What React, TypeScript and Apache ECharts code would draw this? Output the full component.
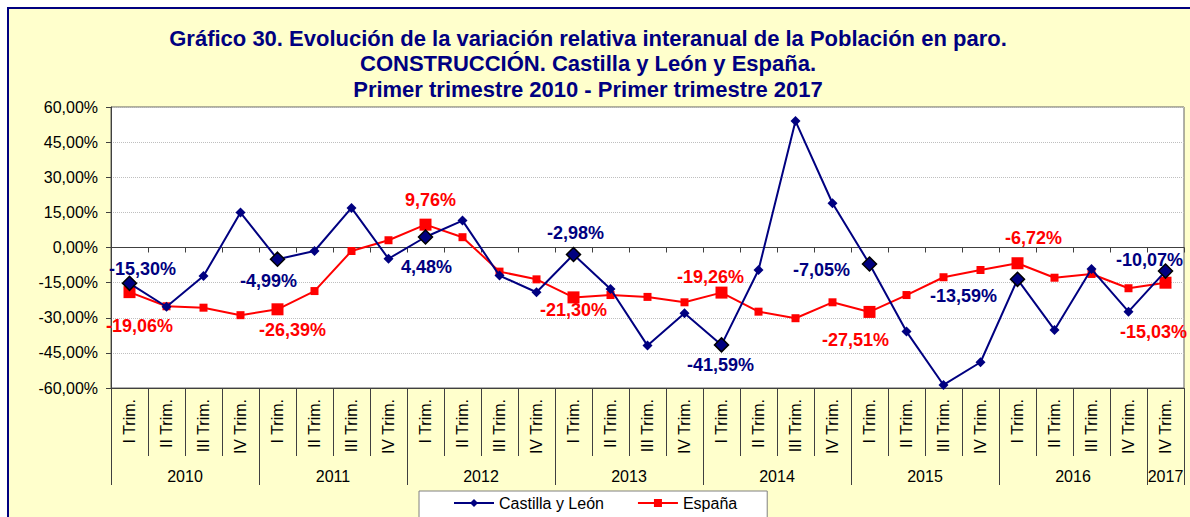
import React, { useEffect, useRef } from "react";
import * as echarts from "echarts";

const quarterLabels: string[] = [
  "I Trim.", "II Trim.", "III Trim.", "IV Trim.",
  "I Trim.", "II Trim.", "III Trim.", "IV Trim.",
  "I Trim.", "II Trim.", "III Trim.", "IV Trim.",
  "I Trim.", "II Trim.", "III Trim.", "IV Trim.",
  "I Trim.", "II Trim.", "III Trim.", "IV Trim.",
  "I Trim.", "II Trim.", "III Trim.", "IV Trim.",
  "I Trim.", "II Trim.", "III Trim.", "IV Trim.",
  "IV Trim.",
];
const yearLabels: string[] = ["2010", "2011", "2012", "2013", "2014", "2015", "2016", "2017"];
const yearCenters: number[] = [2, 6, 10, 14, 18, 22, 26, 28.5];
const yearBounds: number[] = [0, 4, 8, 12, 16, 20, 24, 28, 29];

const castillaLeon: number[] = [
  -15.30, -25.3, -12.2, 14.9,
  -4.99, -1.5, 16.9, -4.8,
  4.48, 11.5, -12.0, -19.1,
  -2.98, -17.7, -41.9, -28.1,
  -41.59, -9.6, 54.0, 18.9,
  -7.05, -35.9, -58.7, -49.0,
  -13.59, -35.2, -9.2, -27.4,
  -10.07,
];
const espana: number[] = [
  -19.06, -25.1, -25.7, -28.9,
  -26.39, -18.6, -1.5, 3.1,
  9.76, 4.4, -10.3, -13.6,
  -21.30, -20.3, -21.1, -23.4,
  -19.26, -27.4, -30.2, -23.4,
  -27.51, -20.3, -12.7, -9.6,
  -6.72, -12.9, -11.3, -17.4,
  -15.03,
];
const highlighted: number[] = [0, 4, 8, 12, 16, 20, 24, 28];

// label placement (layout only)
const cylLabelOffsets: Record<number, [number, number]> = {
  0: [13, -14], 4: [-9, 22], 8: [1, 30], 12: [2, -21],
  16: [-1, 20], 20: [-48, 6], 24: [-54, 17], 28: [-16, -11],
};
const espLabelOffsets: Record<number, [number, number]> = {
  0: [10, 34], 4: [15, 21], 8: [5, -25], 12: [0, 13],
  16: [-11, -16], 20: [-14, 28], 24: [16, -25], 28: [-12, 49],
};

const FONT = "'Liberation Sans', Arial, sans-serif";
const NAVY = "#000080";
const RED = "#FF0000";

const fmt = (v: number) => v.toFixed(2).replace(".", ",") + "%";

function buildData(values: number[], offsets: Record<number, [number, number]>, color: string, isCyl: boolean) {
  return values.map((v, i) => {
    if (!highlighted.includes(i)) return v;
    return {
      value: v,
      symbolSize: isCyl ? 14 : 12,
      itemStyle: isCyl
        ? { color: NAVY, borderColor: "#000", borderWidth: 1.5 }
        : { color: RED },
      label: {
        show: true,
        position: "inside",
        offset: offsets[i],
        formatter: () => fmt(v),
        color,
        fontFamily: FONT,
        fontWeight: "bold",
        fontSize: 18,
      },
    };
  });
}

export default function App() {
  const ref = useRef<HTMLDivElement>(null);
  useEffect(() => {
    if (!ref.current) return;
    const chart = echarts.init(ref.current, undefined, { renderer: "svg" });
    const allBounds = Array.from({ length: 30 }, (_, i) => i);
    chart.setOption({
      animation: false,
      backgroundColor: "#FFFFFF",
      graphic: [
        {
          type: "rect",
          z: -100,
          silent: true,
          shape: { x: 8, y: 8, width: 1200, height: 520 },
          style: { fill: "#FFFFCC", stroke: NAVY, lineWidth: 2 },
        },
        {
          type: "text", x: 588, y: 38, z: 10,
          style: { text: "Gráfico 30. Evolución de la variación relativa interanual de la Población en paro.", textAlign: "center", textVerticalAlign: "middle", fill: NAVY, font: `bold 22px ${FONT}` },
        },
        {
          type: "text", x: 588, y: 63, z: 10,
          style: { text: "CONSTRUCCIÓN. Castilla y León y España.", textAlign: "center", textVerticalAlign: "middle", fill: NAVY, font: `bold 22px ${FONT}` },
        },
        {
          type: "text", x: 588, y: 89, z: 10,
          style: { text: "Primer trimestre 2010 - Primer trimestre 2017", textAlign: "center", textVerticalAlign: "middle", fill: NAVY, font: `bold 22px ${FONT}` },
        },
      ],
      grid: {
        left: 111,
        right: 6,
        top: 107,
        bottom: 129,
        show: true,
        backgroundColor: "#FFFFFF",
        borderColor: "#606060",
        borderWidth: 1,
      },
      legend: {
        left: 419,
        top: 491,
        padding: [4, 30, 20, 34],
        itemWidth: 40,
        itemHeight: 10,
        itemGap: 33,
        backgroundColor: "#FFFFFF",
        borderColor: "#808080",
        borderWidth: 1,
        textStyle: { fontFamily: FONT, fontSize: 16, color: "#000" },
        data: ["Castilla y León", "España"],
      },
      xAxis: [
        {
          type: "category",
          data: quarterLabels,
          position: "bottom",
          boundaryGap: true,
          axisLine: { show: true, onZero: false, lineStyle: { color: "#404040", width: 1 } },
          axisTick: { show: false },
          axisLabel: {
            interval: 0,
            rotate: 90,
            margin: 11,
            fontFamily: FONT,
            fontSize: 16,
            color: "#000",
          },
          splitLine: { show: false },
        },
        {
          type: "value",
          min: 0,
          max: 29,
          position: "bottom",
          axisLine: { show: false, onZero: false },
          axisTick: { show: true, customValues: allBounds, length: 68, lineStyle: { color: "#404040" } },
          axisLabel: { show: false },
          splitLine: { show: false },
        },
        {
          type: "value",
          min: 0,
          max: 29,
          position: "bottom",
          axisLine: { show: false, onZero: false },
          axisTick: { show: true, customValues: yearBounds, length: 97, lineStyle: { color: "#404040" } },
          axisLabel: {
            show: true,
            customValues: yearCenters,
            margin: 80,
            fontFamily: FONT,
            fontSize: 16,
            color: "#000",
            formatter: (v: number) => yearLabels[Math.min(yearLabels.length - 1, Math.floor(v / 4))],
          },
          splitLine: { show: false },
        },
        {
          type: "value",
          min: 0,
          max: 29,
          position: "bottom",
          axisLine: { show: true, onZero: true, onZeroAxisIndex: 0, lineStyle: { color: "#404040", width: 1 } },
          axisTick: { show: true, customValues: allBounds, length: 5, lineStyle: { color: "#404040" } },
          axisLabel: { show: false },
          splitLine: { show: false },
        },
      ],
      yAxis: {
        type: "value",
        min: -60,
        max: 60,
        interval: 15,
        axisLine: { show: true, lineStyle: { color: "#404040" } },
        axisTick: { show: true, length: 5, lineStyle: { color: "#404040" } },
        axisLabel: {
          margin: 13,
          fontFamily: FONT,
          fontSize: 16,
          color: "#000",
          formatter: (v: number) => fmt(v),
        },
        splitLine: { show: true, lineStyle: { color: "#BFBFBF", type: "dotted", width: 1 } },
      },
      series: [
        {
          name: "Castilla y León",
          type: "line",
          xAxisIndex: 0,
          data: buildData(castillaLeon, cylLabelOffsets, NAVY, true),
          symbol: "diamond",
          symbolSize: 10,
          lineStyle: { color: NAVY, width: 2 },
          itemStyle: { color: NAVY },
          z: 3,
        },
        {
          name: "España",
          type: "line",
          xAxisIndex: 0,
          data: buildData(espana, espLabelOffsets, RED, false),
          symbol: "rect",
          symbolSize: 8,
          lineStyle: { color: RED, width: 2 },
          itemStyle: { color: RED },
          z: 2,
        },
      ],
    });
    return () => chart.dispose();
  }, []);
  return (
    <div
      ref={ref}
      style={{ position: "absolute", left: 0, top: 0, width: 1190, height: 517 }}
    />
  );
}
